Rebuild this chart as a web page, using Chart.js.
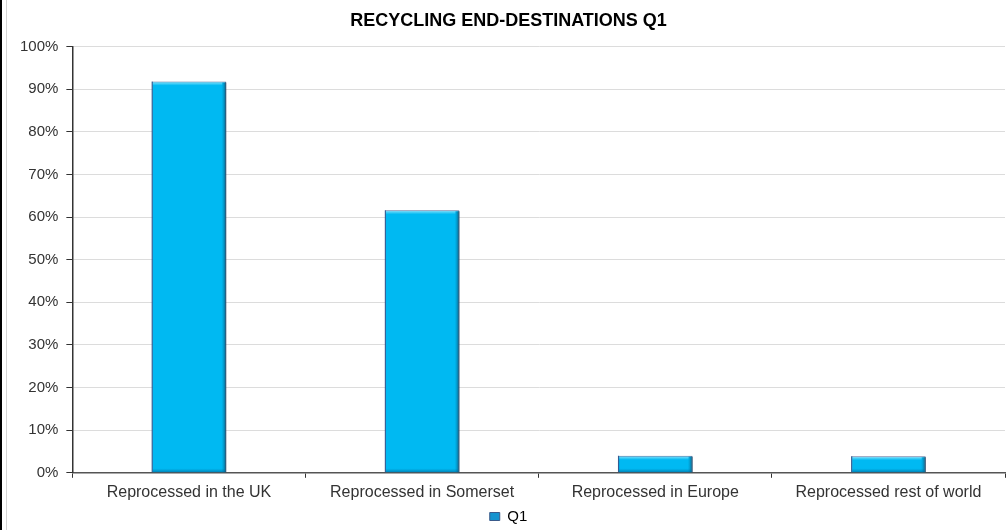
<!DOCTYPE html>
<html>
<head>
<meta charset="utf-8">
<script src="https://cdn.jsdelivr.net/npm/chart.js@4"></script>
<style>
  html, body { margin: 0; padding: 0; background: #fff; }
  #wrap { width: 1007px; height: 530px; position: relative; }
</style>
</head>
<body>
<div id="wrap"><canvas id="chart"></canvas></div>
<script>
// chart data
var categories = ['Reprocessed in the UK', 'Reprocessed in Somerset', 'Reprocessed in Europe', 'Reprocessed rest of world'];
var seriesName = 'Q1';
var q1Values = [91.8, 61.6, 4.0, 3.9];
var yTicks = [0, 10, 20, 30, 40, 50, 60, 70, 80, 90, 100];

// white page + left frame lines
var framePlugin = {
  id: 'frame',
  beforeDraw: function (chart) {
    var ctx = chart.ctx;
    ctx.save();
    ctx.fillStyle = '#fff';
    ctx.fillRect(0, 0, chart.width, chart.height);
    ctx.fillStyle = '#000';
    ctx.fillRect(0, 0, 2, chart.height);
    ctx.fillStyle = '#d4d4d4';
    ctx.fillRect(6, 0, 1, chart.height);
    ctx.restore();
  }
};

// fake excel-ish bevel on bars
var bevelPlugin = {
  id: 'bevel',
  afterDatasetsDraw: function (chart) {
    var ctx = chart.ctx;
    var meta = chart.getDatasetMeta(0);
    ctx.save();
    meta.data.forEach(function (bar) {
      var l = bar.x - bar.width / 2, r = bar.x + bar.width / 2;
      var t = bar.y, b = bar.base;
      var h = b - t;
      var s = Math.min(4, h / 3);
      // right shade
      var g = ctx.createLinearGradient(r - 5, 0, r, 0);
      g.addColorStop(0, 'rgba(0,150,200,0)');
      g.addColorStop(1, 'rgba(20,60,90,0.85)');
      ctx.fillStyle = g;
      ctx.fillRect(r - 5, t + 1, 5, h - 1);
      // top highlight
      var g2 = ctx.createLinearGradient(0, t, 0, t + s);
      g2.addColorStop(0, 'rgba(160,235,255,0.9)');
      g2.addColorStop(1, 'rgba(160,235,255,0)');
      ctx.fillStyle = g2;
      ctx.fillRect(l + 1, t + 1, bar.width - 5, s);
      // left edge
      ctx.fillStyle = 'rgba(30,80,140,0.7)';
      ctx.fillRect(l, t, 1.2, h);
      // bottom shade
      var g3 = ctx.createLinearGradient(0, b - s, 0, b);
      g3.addColorStop(0, 'rgba(0,120,170,0)');
      g3.addColorStop(1, 'rgba(0,90,140,0.6)');
      ctx.fillStyle = g3;
      ctx.fillRect(l + 1, b - s, bar.width - 2, s);
    });
    ctx.restore();
  }
};

Chart.defaults.font.family = '"Liberation Sans", Arial, sans-serif';
Chart.defaults.color = '#333';

new Chart(document.getElementById('chart'), {
  type: 'bar',
  data: {
    labels: categories,
    datasets: [{
      label: seriesName,
      data: q1Values,
      backgroundColor: '#00b9f2',
      borderColor: '#5a6f9a',
      borderWidth: 1,
      barPercentage: 0.64,
      categoryPercentage: 0.5
    }]
  },
  options: {
    responsive: true,
    maintainAspectRatio: false,
    animation: false,
    layout: { padding: { left: 12, right: 2, top: 6, bottom: -4 } },
    plugins: {
      title: {
        display: true,
        text: 'RECYCLING END-DESTINATIONS Q1',
        color: '#000',
        font: { size: 18, weight: 'bold' },
        padding: { top: 4, bottom: 15 }
      },
      legend: {
        position: 'bottom',
        labels: {
          boxWidth: 10,
          boxHeight: 8,
          color: '#333',
          font: { size: 15 },
          padding: 2,
          generateLabels: function (chart) {
            return [{
              text: seriesName,
              fillStyle: '#1593cf',
              strokeStyle: '#3a5a8a',
              lineWidth: 1,
              datasetIndex: 0
            }];
          }
        }
      },
      tooltip: { enabled: false }
    },
    scales: {
      x: {
        offset: true,
        grid: {
          offset: true,
          drawOnChartArea: false,
          drawTicks: true,
          tickLength: 5,
          tickColor: '#333'
        },
        border: { color: '#555', width: 1.5 },
        ticks: { color: '#333', font: { size: 16 }, padding: 5, maxRotation: 0 }
      },
      y: {
        min: 0,
        max: 100,
        afterBuildTicks: function (scale) {
          scale.ticks = yTicks.map(function (v) { return { value: v }; });
        },
        grid: {
          color: '#dcdcdc',
          tickColor: '#333',
          tickLength: 6,
          lineWidth: 1
        },
        border: { color: '#333', width: 1.5 },
        ticks: {
          color: '#333',
          font: { size: 15 },
          padding: 8,
          callback: function (v) { return v + '%'; }
        }
      }
    }
  },
  plugins: [framePlugin, bevelPlugin]
});
</script>
</body>
</html>
